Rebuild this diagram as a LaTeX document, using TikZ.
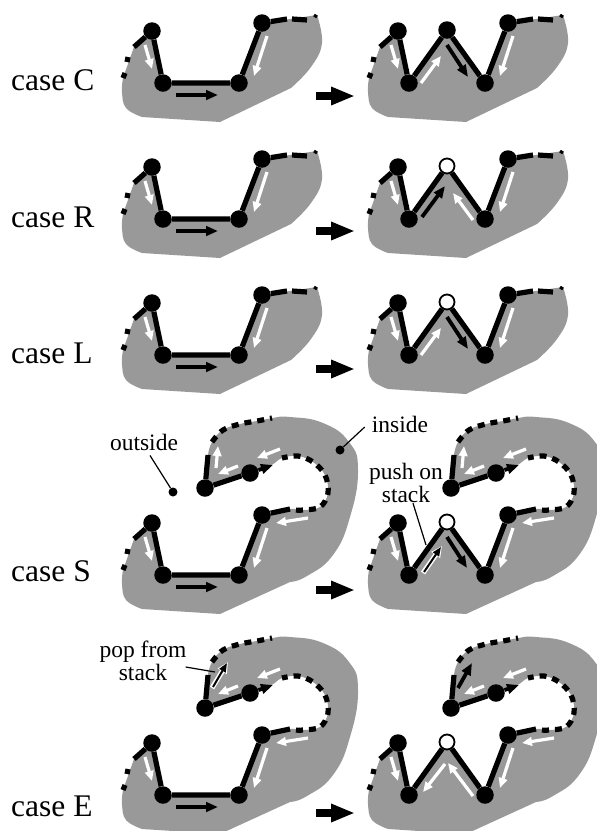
\documentclass[tikz,border=0pt]{standalone}
\usepackage{fontspec}
\setmainfont{Liberation Serif}
\usetikzlibrary{arrows.meta}

\definecolor{blobgray}{gray}{0.6}
\tikzset{
  vertex/.style={circle,fill=black,inner sep=0pt,minimum size=17.5pt},
  openvertex/.style={circle,draw=black,line width=1.8pt,fill=white,inner sep=0pt,minimum size=15pt},
  edge/.style={line width=5.2pt},
  dashedge/.style={line width=5.2pt,dash pattern=on 7pt off 6pt},
  whitearrow/.style={white,line width=3.2pt,-{Triangle[length=10pt,width=8.5pt]}},
  blackarrow/.style={black,line width=3.8pt,-{Triangle[length=12pt,width=9.5pt]}},
  haloarrow/.style={white,line width=5pt,-{Triangle[length=11pt,width=10pt]}},
  thinarrow/.style={black,line width=2pt,-{Triangle[length=9pt,width=7pt]}},
  bigarrow/.style={black,line width=8.5pt,-{Triangle[length=24pt,width=17pt]}},
  caselabel/.style={anchor=west,inner sep=0pt,font=\fontsize{31.5}{31.5}\selectfont},
  smalllabel/.style={align=center,inner sep=1pt,font=\fontsize{23.5}{23.5}\selectfont},
  leader/.style={line width=1.2pt},
  smalldot/.style={circle,fill=black,inner sep=0pt,minimum size=9pt}
}

% gray regions, #1 is the extra corner of the zigzag
\newcommand{\shortblob}[1]{\fill[blobgray] (152,31) -- (163,83) #1 -- (239,83) -- (262,23) -- (290,19) -- (317,15)
  -- plot[smooth,tension=.7] coordinates {(317,15) (322,43) (311,67) (291,88)}
  -- (220,122) -- (142,117) -- plot[smooth,tension=.7] coordinates {(142,117) (126,108) (122,92) (123,78)}
  -- (134,47) -- cycle;}
\newcommand{\longblob}[1]{\fill[blobgray] (152,31) -- (163,83) #1 -- (239,83) -- (262,23)
  -- plot[smooth,tension=.6] coordinates {(262,23) (290,17) (303,18) (320,15) (328,1) (325,-17) (313,-30) (298,-36) (282,-34) (270,-26) (250,-19)}
  -- (205,-4)
  -- plot[smooth,tension=.8] coordinates {(208,-37) (212,-50) (223,-62) (240,-68) (257,-71) (272,-74) (290,-75) (323,-69) (349,-50) (358,-22) (350,25) (333,63) (307,84) (290,90)}
  -- (220,122) -- (142,117) -- plot[smooth,tension=.7] coordinates {(142,117) (126,108) (122,92) (123,78)}
  -- (134,47) -- cycle;}

% vertices and edges
\newcommand{\uedges}{
  \node[vertex] (a) at (152,31) {};
  \node[vertex] (b) at (163,83) {};
  \node[vertex] (c) at (239,83) {};
  \node[vertex] (d) at (262,23) {};
  \draw[edge] (a)--(b)--(c)--(d);
  \draw[blackarrow] (176,95)--(218,95);}
\newcommand{\wedges}[1]{
  \node[vertex] (a) at (152,31) {};
  \node[vertex] (b) at (163,83) {};
  \node[#1] (m) at (201,30) {};
  \node[vertex] (c) at (239,83) {};
  \node[vertex] (d) at (262,23) {};
  \draw[edge] (a)--(b)--(m)--(c)--(d);}

% ends of the boundary
\newcommand{\leftends}{
  \coordinate (p) at (134,47);
  \draw[edge] (a)--(p);
  \draw[edge] (128,57)--(127,62);
  \draw[edge] (125,73)--(123,78);
  \draw[whitearrow] (145,45)--(152,69);
  \draw[whitearrow] (267,36)--(254,76);}
\newcommand{\shortends}{
  \coordinate (q) at (287,19);
  \draw[edge] (d)--(q);
  \draw[edge] (292,19)--(307,20);
  \draw[line width=3pt] (314,15)--(317,17);}
\newcommand{\longends}{
  \coordinate (q) at (290,17);
  \coordinate (r) at (270,-26);
  \coordinate (s) at (208,-37);
  \node[vertex] (e) at (250,-19) {};
  \node[vertex] (f) at (205,-4) {};
  \draw[edge] (d)--(q);
  \draw[dashedge] plot[smooth,tension=.6] coordinates {(296,18) (303,18) (320,15) (328,1) (325,-17) (313,-30) (298,-36) (282,-34)};
  \draw[edge] (e)--(f)--(s);
  \draw[dashedge] plot[smooth,tension=.6] coordinates {(212,-50) (223,-62) (240,-68) (257,-71) (272,-74)};
  \draw[blackarrow] (e)--(273,-27);
  \draw[whitearrow] (238,-26)--(218,-18);
  \draw[whitearrow] (280,-43)--(257,-34);
  \draw[whitearrow] (308,26)--(276,31);}

\begin{document}
\begin{tikzpicture}[x=1pt,y=-1pt,line cap=butt,line join=round]
\clip (0,0) rectangle (597,831);

% case C
\node[caselabel] (casec) at (11,80) {case C};
\begin{scope}[name prefix=cl-]
  \shortblob{}
  \uedges \leftends \shortends
\end{scope}
\begin{scope}[shift={(246,0)},name prefix=cr-]
  \shortblob{-- (201,30)}
  \wedges{vertex} \leftends \shortends
  \draw[whitearrow] (175,83)--(195,56);
  \draw[blackarrow] (201,45)--(222,77);
\end{scope}
\draw[bigarrow] (316,96)--(355,96);

% case R
\node[caselabel] (caser) at (11,217) {case R};
\begin{scope}[shift={(0,136)},name prefix=rl-]
  \shortblob{}
  \uedges \leftends \shortends
\end{scope}
\begin{scope}[shift={(246,136)},name prefix=rr-]
  \shortblob{-- (201,30)}
  \wedges{openvertex} \leftends \shortends
  \draw[blackarrow] (176,81)--(199,50);
  \draw[whitearrow] (227,84)--(207,57);
\end{scope}
\draw[bigarrow] (316,231)--(355,231);

% case L
\node[caselabel] (casel) at (11,353) {case L};
\begin{scope}[shift={(0,272)},name prefix=ll-]
  \shortblob{}
  \uedges \leftends \shortends
\end{scope}
\begin{scope}[shift={(246,272)},name prefix=lr-]
  \shortblob{-- (201,30)}
  \wedges{openvertex} \leftends \shortends
  \draw[whitearrow] (175,83)--(195,56);
  \draw[blackarrow] (201,45)--(222,77);
\end{scope}
\draw[bigarrow] (316,369)--(355,369);

% case S
\node[caselabel] (cases) at (11,571) {case S};
\begin{scope}[shift={(0,492)},name prefix=sl-]
  \longblob{}
  \uedges \leftends \longends
  \draw[whitearrow] (216,-24)--(218,-46);
\end{scope}
\begin{scope}[shift={(246,492)},name prefix=sr-]
  \longblob{-- (201,30)}
  \wedges{openvertex} \leftends \longends
  \draw[whitearrow] (216,-24)--(218,-46);
  \draw[haloarrow] (177,81)--(196,54);
  \draw[thinarrow] (178,80)--(195,55);
  \draw[blackarrow] (201,45)--(221,76);
\end{scope}
\draw[bigarrow] (316,590)--(355,590);
\node[smalllabel] (outside) at (144,442) {outside};
\node[smalldot] (outdot) at (173,492) {};
\draw[leader] (outside.south) ++(6,4) -- (outdot);
\node[smalllabel] (inside) at (400,424) {inside};
\node[smalldot] (indot) at (340,450) {};
\draw[leader] (inside.west) ++(-6,3) -- (indot);
\node[smalllabel] (push) at (406,483) {push on\\stack};
\coordinate (pushend) at (426,545);
\draw[leader] (push.south) ++(7,-1) -- (pushend);

% case E
\node[caselabel] (casee) at (11,806) {case E};
\begin{scope}[shift={(0,712)},name prefix=el-]
  \longblob{}
  \uedges \leftends \longends
  \draw[haloarrow] (212,-24)--(228,-50);
  \draw[thinarrow] (213,-25)--(227,-49);
\end{scope}
\begin{scope}[shift={(246,712)},name prefix=er-]
  \longblob{-- (201,30)}
  \wedges{openvertex} \leftends \longends
  \draw[blackarrow] (212,-24)--(226,-49);
  \draw[whitearrow] (199,52)--(177,80);
  \draw[whitearrow] (227,84)--(202,51);
\end{scope}
\draw[bigarrow] (316,813)--(355,813);
\node[smalllabel] (pop) at (143,661) {pop from\\stack};
\coordinate (popend) at (215,672);
\draw[leader] (pop.east) ++(-2,6) -- (popend);
\end{tikzpicture}
\end{document}
